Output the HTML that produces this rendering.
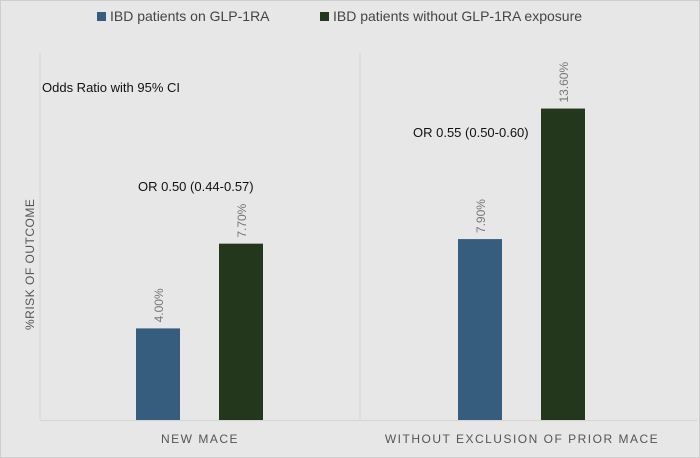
<!DOCTYPE html>
<html><head><meta charset="utf-8"><style>
html,body{margin:0;padding:0;background:#fff}
svg{display:block;font-family:"Liberation Sans",sans-serif}
</style></head><body>
<svg width="700" height="458">
<rect x="0.5" y="0.5" width="699" height="457" fill="#e7e7e7" stroke="#cfcfcf"/>
<g>
<rect x="97" y="12" width="9" height="9" fill="#375d7e"/>
<text x="110" y="21" font-size="14" fill="#444">IBD patients on GLP-1RA</text>
<rect x="320" y="12" width="9" height="9" fill="#22371b"/>
<text x="333" y="21" font-size="14" fill="#444">IBD patients without GLP-1RA exposure</text>
</g>
<line x1="40" y1="53" x2="40" y2="420" stroke="#d4d4d4"/>
<line x1="360" y1="53" x2="360" y2="420" stroke="#d4d4d4"/>
<line x1="40" y1="420.5" x2="697" y2="420.5" stroke="#d4d4d4"/>
<text x="42" y="92" font-size="13" fill="#111">Odds Ratio with 95% CI</text>
<text x="138" y="191" font-size="13" fill="#111">OR 0.50 (0.44-0.57)</text>
<text x="413" y="137" font-size="13" fill="#111">OR 0.55 (0.50-0.60)</text>
<text transform="translate(34,330) rotate(-90)" font-size="12" fill="#555" letter-spacing="0.5">%RISK OF OUTCOME</text>
<g id="bars"></g>
<g id="xlabels"></g>
</svg>
<script>
const categories=["NEW MACE","WITHOUT EXCLUSION OF PRIOR MACE"];
const glp1=[4.0,7.9];
const noGlp1=[7.7,13.6];
const baseY=420, pxPer=22.9;
const catCenter=i=>200+i*322;
const y=v=>baseY-v*pxPer;
const ns="http://www.w3.org/2000/svg";
const bars=document.getElementById('bars'), xl=document.getElementById('xlabels');
function bar(cx,v,color,name){
  const r=document.createElementNS(ns,'rect');
  r.setAttribute('x',cx-22);r.setAttribute('width',44);
  r.setAttribute('y',y(v));r.setAttribute('height',baseY-y(v));r.setAttribute('fill',color);
  
  
  bars.appendChild(r);
  const t=document.createElementNS(ns,'text');
  t.setAttribute('transform',`translate(${cx+5},${y(v)-6}) rotate(-90)`);
  t.setAttribute('font-size','12');t.setAttribute('fill','#777');
  t.textContent=v.toFixed(2)+'%';
  
  
  bars.appendChild(t);
}
categories.forEach((c,i)=>{
  const cx=catCenter(i);
  bar(cx-42,glp1[i],'#375d7e','bar-glp1-'+i);
  bar(cx+41,noGlp1[i],'#22371b','bar-no-glp1-'+i);
  const t=document.createElementNS(ns,'text');
  t.setAttribute('x',cx);t.setAttribute('y',443);t.setAttribute('text-anchor','middle');
  t.setAttribute('font-size','12');t.setAttribute('fill','#555');t.setAttribute('letter-spacing','1.5');
  t.textContent=c;
  
  
  xl.appendChild(t);
});
</script>
</body></html>
